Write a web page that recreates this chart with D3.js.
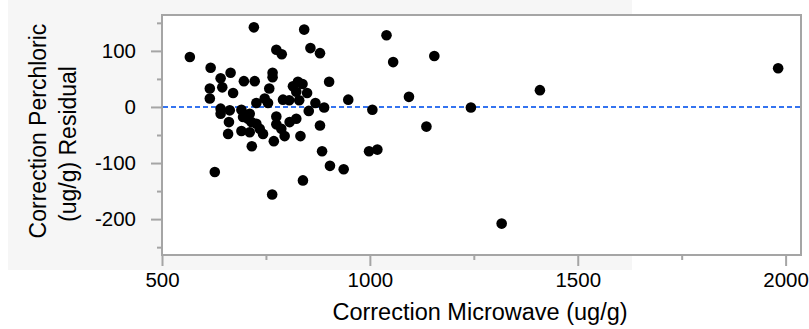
<!DOCTYPE html>
<html>
<head>
<meta charset="utf-8">
<script src="https://cdn.jsdelivr.net/npm/d3@7"></script>
<style>
  html, body { margin: 0; padding: 0; background: #ffffff; }
  svg { display: block; }
  text { font-family: "Liberation Sans", Arial, Helvetica, sans-serif; fill: #000; }
</style>
</head>
<body>
<svg id="chart" width="809" height="329"></svg>
<script>
// ---- data ----
const microwave = [567,721,842,1040,775,788,857,880,1056,1155,617,641,665,697,723,766,766,758,615,645,615,671,902,815,827,838,849,823,830,806,791,727,747,755,869,890,948,1006,1094,1243,1136,641,641,663,691,711,661,695,707,727,735,743,691,711,659,775,775,787,795,769,807,823,853,833,880,716,885,627,904,937,839,765,998,1018,1982,1409,1317,715];
const residual  = [89,142,138,128,102,94,105,96,80,91,70,51,61,46,46,61,53,33,33,35,15,25,45,37,45,41,25,27,12,12,13,7,15,7,7,-1,13,-5,18,-1,-35,-3,-12,-6,-5,-12,-27,-18,-21,-30,-39,-48,-43,-45,-48,-17,-31,-39,-52,-61,-27,-21,-7,-52,-33,-70,-79,-116,-105,-111,-131,-156,-79,-76,69,30,-208,-27];
const xMajorTicks = [500, 1000, 1500, 2000];
const xMinorTicks = [750, 1250, 1750];
const yMajorTicks = [-200, -100, 0, 100];
const yMinorTicks = [-250, -150, -50, 50, 150];
const xTitle = "Correction Microwave (ug/g)";
const yTitleLines = ["Correction Perchloric", "(ug/g) Residual"];

// ---- layout ----
const svg = d3.select("#chart");
const L = 162, R = 801, T = 15, B = 255;
const x = d3.scaleLinear().domain([500, 2037]).range([L, R]);
const y = d3.scaleLinear().domain([-264, 164]).range([B, T]);
const frameColor = "#a5a5a5";
const fmt = d => String(d);

// gray panel background
svg.append("rect").attr("x", 8).attr("y", 0).attr("width", 624).attr("height", 270).attr("fill", "#f6f6f6");
// plot area
svg.append("rect").attr("x", L).attr("y", T).attr("width", R - L).attr("height", B - T).attr("fill", "#ffffff");

// zero reference line
svg.append("line")
  .attr("x1", L + 1).attr("x2", R - 1)
  .attr("y1", y(0)).attr("y2", y(0))
  .attr("stroke", "#3473f0").attr("stroke-width", 2).attr("stroke-dasharray", "5,3");

// points
svg.append("g").selectAll("circle")
  .data(microwave.map((m, i) => [m, residual[i]]))
  .join("circle")
  .attr("cx", d => x(d[0])).attr("cy", d => y(d[1]))
  .attr("r", 5.3).attr("fill", "#000");

// frame
svg.append("rect").attr("x", L).attr("y", T).attr("width", R - L).attr("height", B - T)
  .attr("fill", "none").attr("stroke", frameColor).attr("stroke-width", 2);

// x axis
svg.append("g").attr("transform", `translate(0,${B})`)
  .call(d3.axisBottom(x).tickValues(xMajorTicks).tickSize(11).tickPadding(6).tickFormat(fmt));
svg.append("g").attr("transform", `translate(0,${B})`)
  .call(d3.axisBottom(x).tickValues(xMinorTicks).tickSize(5).tickFormat(""));
// y axis
svg.append("g").attr("transform", `translate(${L},0)`)
  .call(d3.axisLeft(y).tickValues(yMajorTicks).tickSize(11).tickPadding(15).tickFormat(fmt));
svg.append("g").attr("transform", `translate(${L},0)`)
  .call(d3.axisLeft(y).tickValues(yMinorTicks).tickSize(5).tickFormat(""));

svg.selectAll(".domain").remove();
svg.selectAll(".tick line").attr("stroke", frameColor).attr("stroke-width", 2);
svg.selectAll(".tick text").attr("font-size", 20.5).attr("font-family", "Liberation Sans, Arial, sans-serif").attr("fill", "#000");

// x title
svg.append("text").attr("x", 480).attr("y", 320).attr("text-anchor", "middle")
  .attr("font-size", 23.5).text(xTitle);

// y title (two lines)
const yCenters = [131, 144];
yTitleLines.forEach((t, i) => {
  svg.append("text").attr("transform", `translate(${46 + i * 30},${yCenters[i]}) rotate(-90)`)
    .attr("text-anchor", "middle").attr("font-size", 23).text(t);
});
</script>
</body>
</html>
